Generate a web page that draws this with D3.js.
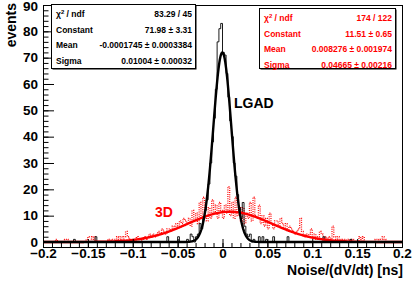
<!DOCTYPE html>
<html>
<head>
<meta charset="utf-8">
<script src="https://cdn.jsdelivr.net/npm/d3@7"></script>
<style>
  body { margin: 0; background: #fff; }
  text { font-family: "Liberation Sans", Arial, sans-serif; }
</style>
</head>
<body>
<div id="wrapper"></div>
<script>
// histogram binning: 200 bins of 0.002 from -0.2 to 0.2
const binLow = -0.2;
const binWidth = 0.002;

// LGAD histogram (black), one value per bin
const lgadCounts = [
  0,0,0,0,0,0,0,0,0,0,   0,0,0,0,0,0,0,1,0,0,
  0,0,0,0,0,0,0,0,0,2,   0,0,0,0,0,0,0,0,0,0,
  0,0,0,0,0,0,0,0,0,0,   1,0,0,0,0,0,0,0,0,0,
  0,0,0,0,0,0,0,0,0,2,   0,0,0,0,0,2,0,0,0,0,
  1,0,3,2,0,2,3,7,5,9,   12,16,22,30,38,47,58,76,81,83,
  72,71,64,55,46,40,30,25,18,13,   9,15,6,3,2,3,0,1,0,0,
  2,0,2,0,1,0,0,0,2,0,   0,0,0,0,0,0,2,0,0,0,
  0,0,0,0,0,0,0,0,0,0,   0,0,0,0,0,0,2,0,0,0,
  0,0,0,0,0,0,0,0,0,0,   0,1,0,0,0,0,0,0,0,0,
  0,0,0,0,0,0,0,0,0,0,   0,0,0,0,0,0,0,0,0,0
];

// 3D histogram (red dotted)
const threeDCounts = [
  0,0,0,0,0,0,0,1,0,0,   0,0,1,1,0,0,0,0,0,0,
  0,0,0,0,1,2,2,1,2,0,   0,0,0,0,0,0,1,0,1,1,
  1,2,1,2,1,2,4,2,1,0,   0,1,2,1,0,1,2,1,2,3,
  2,3,2,3,4,3,5,4,3,5,   5,4,6,5,7,6,8,7,9,8,
  7,9,6,12,8,11,7,15,9,17,   10,8,13,9,16,11,14,9,15,12,
  9,14,11,21,10,15,9,17,10,13,   8,13,7,11,9,15,8,17,10,9,
  14,7,10,6,9,5,11,7,5,8,   8,6,9,7,5,7,4,6,5,4,
  3,4,5,9,4,2,3,2,3,5,   2,3,1,2,4,3,1,2,1,2,
  1,6,2,1,2,1,0,1,1,0,   1,0,1,0,0,0,2,1,2,0,
  0,0,0,0,0,1,1,0,1,2,   1,0,0,0,0,0,0,0,0,0
];

// gaussian fit results shown in the stat boxes
const lgadFit = { constant: 71.98, mean: -0.0001745, sigma: 0.01004 };
const threeDFit = { constant: 11.51, mean: 0.008276, sigma: 0.04665 };

const lgadStats = [
  ["chi", "83.29 / 45"],
  ["Constant", "71.98 \u00b1 3.31"],
  ["Mean", "-0.0001745 \u00b1 0.0003384"],
  ["Sigma", "0.01004 \u00b1 0.00032"]
];
const threeDStats = [
  ["chi", "174 / 122"],
  ["Constant", "11.51 \u00b1 0.65"],
  ["Mean", "0.008276 \u00b1 0.001974"],
  ["Sigma", "0.04665 \u00b1 0.00216"]
];

const xTicks = [-0.2, -0.15, -0.1, -0.05, 0, 0.05, 0.1, 0.15, 0.2];
const yTicks = [0, 10, 20, 30, 40, 50, 60, 70, 80, 90];

const width = 415;
const height = 281;
const frame = { left: 43, right: 402, top: 5, bottom: 247 };

const svg = d3.select("#wrapper").append("svg")
  .attr("width", width)
  .attr("height", height);

svg.append("rect").attr("width", width).attr("height", height).attr("fill", "#fff");

const xScale = d3.scaleLinear().domain([-0.2, 0.2]).range([frame.left, frame.right]);
const yScale = d3.scaleLinear().domain([-1.9, 90]).range([frame.bottom, frame.top]);

const histPath = (counts) => {
  const pts = [];
  counts.forEach((c, i) => {
    const x0 = binLow + i * binWidth;
    pts.push([xScale(x0), yScale(c)]);
    pts.push([xScale(x0 + binWidth), yScale(c)]);
  });
  return d3.line()(pts);
};

const gaussPath = (fit) => {
  const xs = d3.range(-0.2, 0.2001, 0.0005);
  return d3.line()
    .x((x) => xScale(x))
    .y((x) => yScale(fit.constant * Math.exp(-0.5 * Math.pow((x - fit.mean) / fit.sigma, 2))))(xs);
};

// histograms
svg.append("path")
  .attr("d", histPath(threeDCounts))
  .attr("fill", "none")
  .attr("stroke", "#ff1010")
  .attr("stroke-width", 1.3)
  .attr("stroke-dasharray", "1,1.2");

svg.append("path")
  .attr("d", histPath(lgadCounts))
  .attr("fill", "none")
  .attr("stroke", "#000")
  .attr("stroke-width", 0.9);

// fits
svg.append("path")
  .attr("d", gaussPath(threeDFit))
  .attr("fill", "none")
  .attr("stroke", "#ff0000")
  .attr("stroke-width", 2.4);

svg.append("path")
  .attr("d", gaussPath(lgadFit))
  .attr("fill", "none")
  .attr("stroke", "#000")
  .attr("stroke-width", 2.4);

// axes
const xAxis = d3.axisBottom(xScale)
  .tickValues(xTicks)
  .tickSize(-8)
  .tickPadding(1)
  .tickFormat((d) => d3.format("")(+d.toFixed(2)));
const xMinor = d3.axisBottom(xScale)
  .tickValues(d3.range(-20, 21).map((k) => k / 100))
  .tickSize(-4)
  .tickFormat("");

svg.append("g").attr("transform", `translate(0,${frame.bottom})`).call(xMinor);
const gxMajor = svg.append("g").attr("transform", `translate(0,${frame.bottom})`).call(xAxis);
gxMajor.selectAll("text")
  .attr("fill", "#000")
  .style("font-size", "13.5px")
  .style("font-weight", "bold");

const yAxis = d3.axisLeft(yScale)
  .tickValues(yTicks)
  .tickSize(-11)
  .tickPadding(5);
const yMinor = d3.axisLeft(yScale)
  .tickValues(d3.range(0, 91, 2))
  .tickSize(-5.5)
  .tickFormat("");

svg.append("g").attr("transform", `translate(${frame.left},0)`).call(yMinor);
const gy = svg.append("g").attr("transform", `translate(${frame.left},0)`).call(yAxis);
gy.selectAll("text")
  .attr("fill", "#000")
  .style("font-size", "13.5px")
  .style("font-weight", "bold");
gy.selectAll(".tick")
  .filter((d) => d === 90)
  .select("text")
  .attr("dy", "0.4em");

svg.selectAll(".domain").attr("stroke", "#000").attr("stroke-width", 1);
svg.selectAll(".tick line").attr("stroke", "#000").attr("stroke-width", 1);

// frame top and right
svg.append("line")
  .attr("x1", frame.left).attr("x2", frame.right)
  .attr("y1", frame.top + 0.5).attr("y2", frame.top + 0.5)
  .attr("stroke", "#000");
svg.append("line")
  .attr("x1", frame.right + 0.5).attr("x2", frame.right + 0.5)
  .attr("y1", frame.top).attr("y2", frame.bottom)
  .attr("stroke", "#000");

// axis titles
svg.append("text")
  .attr("transform", "translate(16,3) rotate(-90)")
  .attr("text-anchor", "end")
  .style("font-size", "14px")
  .style("font-weight", "bold")
  .text("events");

svg.append("text")
  .attr("x", 403)
  .attr("y", 275)
  .attr("text-anchor", "end")
  .style("font-size", "14px")
  .style("font-weight", "bold")
  .text("Noise/(dV/dt) [ns]");

// curve labels
svg.append("text")
  .attr("x", 234)
  .attr("y", 108)
  .style("font-size", "14px")
  .style("font-weight", "bold")
  .text("LGAD");

svg.append("text")
  .attr("x", 155)
  .attr("y", 217)
  .attr("fill", "#ff0000")
  .style("font-size", "14px")
  .style("font-weight", "bold")
  .text("3D");

// stat boxes
const drawStats = (rows, box, color) => {
  const g = svg.append("g");
  g.append("rect")
    .attr("x", box.x + 1.5).attr("y", box.y + 1.5)
    .attr("width", box.w).attr("height", box.h)
    .attr("fill", "#000");
  g.append("rect")
    .attr("x", box.x + 0.5).attr("y", box.y + 0.5)
    .attr("width", box.w).attr("height", box.h)
    .attr("fill", "#fff")
    .attr("stroke", "#000");
  rows.forEach((r, i) => {
    const y = box.y + 13 + i * 15.5;
    const label = g.append("text")
      .attr("x", box.x + 5)
      .attr("y", y)
      .attr("fill", color)
      .style("font-size", "8.5px")
      .style("font-weight", "bold");
    if (r[0] === "chi") {
      label.append("tspan").text("\u03c7");
      label.append("tspan").attr("dy", -3).style("font-size", "6px").text("2");
      label.append("tspan").attr("dy", 3).text(" / ndf");
    } else {
      label.text(r[0]);
    }
    g.append("text")
      .attr("x", box.x + box.w - 3)
      .attr("y", y)
      .attr("text-anchor", "end")
      .attr("fill", color)
      .style("font-size", "8.5px")
      .style("font-weight", "bold")
      .text(r[1]);
  });
};

drawStats(lgadStats, { x: 51, y: 4, w: 144, h: 64 }, "#000");
drawStats(threeDStats, { x: 259, y: 8, w: 136, h: 60 }, "#ff0000");
</script>
</body>
</html>
